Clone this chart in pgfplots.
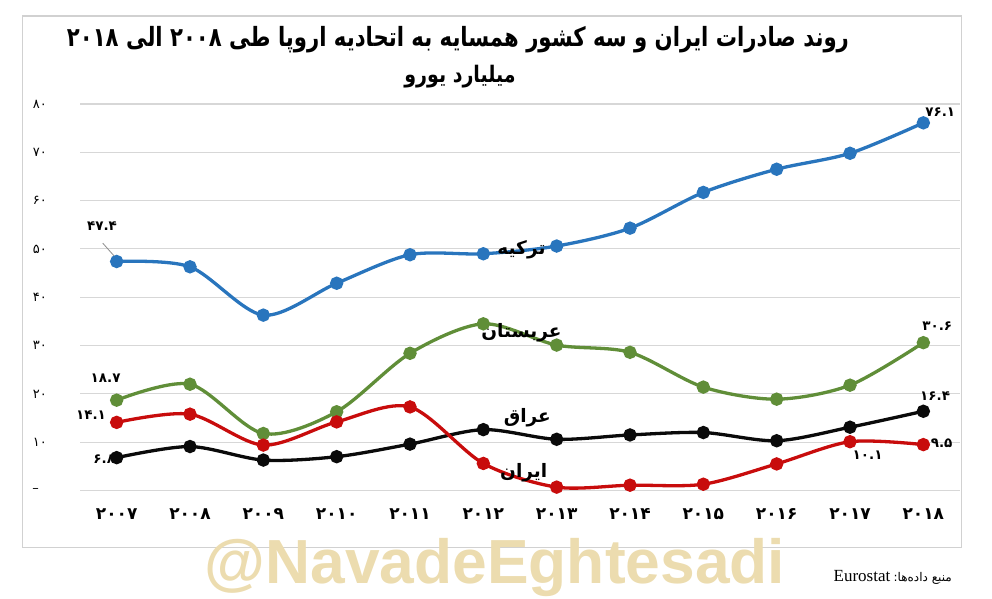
\documentclass[border=0pt]{standalone}
\usepackage{pgfplots}
\pgfplotsset{compat=1.18}
\usepackage{fontspec}
\setmainfont{Liberation Serif}
\newfontfamily\fa[Script=Arabic]{DejaVu Sans}
\newfontfamily\lsans{Liberation Sans}
\TeXXeTstate=1
\definecolor{tblue}{RGB}{41,117,189}
\definecolor{tgreen}{RGB}{96,142,56}
\definecolor{tred}{RGB}{200,12,12}
\definecolor{tblack}{RGB}{10,10,10}
\definecolor{tgrid}{RGB}{215,215,215}
\definecolor{wm}{RGB}{236,220,175}
\tikzset{
  dlab/.style={font=\fa\bfseries\fontsize{13.5}{13.5}\selectfont, inner sep=0pt},
  slab/.style={font=\fa\bfseries\fontsize{18.5}{18.5}\selectfont, inner sep=0pt},
}
\begin{document}
\begin{tikzpicture}[x=1pt,y=1pt]
\path[use as bounding box] (0,0) rectangle (992,598);
\draw[black!18, line width=1.3pt] (22.7,582) rectangle (961.7,50.3);
\node[text=wm, inner sep=0, anchor=south] at (495,1) {\resizebox{580pt}{!}{\lsans\bfseries @NavadeEghtesadi}};
\begin{axis}[
  at={(80pt,107.5pt)}, anchor=south west,
  width=880pt, height=386.5pt, scale only axis,
  xmin=-0.5, xmax=11.5, ymin=0, ymax=80,
  axis line style={draw=none},
  major tick length=0pt,
  ymajorgrids, grid style={tgrid, line width=1.1pt},
  xtick={0,...,11},
  xticklabels={۲۰۰۷,۲۰۰۸,۲۰۰۹,۲۰۱۰,۲۰۱۱,۲۰۱۲,۲۰۱۳,۲۰۱۴,۲۰۱۵,۲۰۱۶,۲۰۱۷,۲۰۱۸},
  xticklabel style={font=\fa\bfseries\fontsize{17}{17}\selectfont, anchor=north, inner sep=0pt, yshift=-18pt},
  ytick={0,10,...,80},
  yticklabels={–\hspace*{8pt},۱۰,۲۰,۳۰,۴۰,۵۰,۶۰,۷۰,۸۰},
  yticklabel style={font=\fa\fontsize{13}{13}\selectfont, anchor=east, inner sep=0pt, xshift=-33pt},
  clip=false,
]
\addplot[tblue, line width=3.3pt, smooth, mark=*, mark size=5pt, mark options={fill=tblue, draw=tblue}]
  coordinates {(0,47.4)(1,46.3)(2,36.3)(3,42.9)(4,48.8)(5,49.0)(6,50.6)(7,54.3)(8,61.7)(9,66.5)(10,69.8)(11,76.1)};
\addplot[tgreen, line width=3.3pt, smooth, mark=*, mark size=5pt, mark options={fill=tgreen, draw=tgreen}]
  coordinates {(0,18.7)(1,22.0)(2,11.8)(3,16.3)(4,28.4)(5,34.5)(6,30.1)(7,28.6)(8,21.4)(9,18.9)(10,21.8)(11,30.6)};
\addplot[tblack, line width=3.3pt, smooth, mark=*, mark size=5pt, mark options={fill=tblack, draw=tblack}]
  coordinates {(0,6.8)(1,9.1)(2,6.3)(3,7.0)(4,9.6)(5,12.6)(6,10.6)(7,11.5)(8,12.0)(9,10.3)(10,13.1)(11,16.4)};
\addplot[tred, line width=3.3pt, smooth, mark=*, mark size=5pt, mark options={fill=tred, draw=tred}]
  coordinates {(0,14.1)(1,15.8)(2,9.4)(3,14.2)(4,17.3)(5,5.6)(6,0.7)(7,1.1)(8,1.3)(9,5.5)(10,10.1)(11,9.5)};
% leader line
\draw[black!45, line width=0.8pt] (axis cs:-0.19,51.2) -- (axis cs:-0.02,48.3);
% data labels
\node[dlab] at (axis cs:-0.2,54.7) {۴۷.۴};
\node[dlab] at (axis cs:-0.15,23.3) {۱۸.۷};
\node[dlab] at (axis cs:-0.35,15.6) {۱۴.۱};
\node[dlab] at (axis cs:-0.17,6.5) {۶.۸};
\node[dlab] at (axis cs:11.23,78.3) {۷۶.۱};
\node[dlab] at (axis cs:11.19,34.0) {۳۰.۶};
\node[dlab] at (axis cs:11.16,19.6) {۱۶.۴};
\node[dlab] at (axis cs:11.25,9.8) {۹.۵};
\node[dlab] at (axis cs:10.24,7.3) {۱۰.۱};
% series names
\node[slab] at (axis cs:5.52,49.8) {\beginR ترکیه\endR};
\node[slab] at (axis cs:5.52,32.6) {\beginR عربستان\endR};
\node[slab] at (axis cs:5.6,15.0) {\beginR عراق\endR};
\node[slab] at (axis cs:5.55,3.6) {\beginR ایران\endR};
\end{axis}
\node[inner sep=0] at (458,558)
  {\scalebox{1}[1.25]{\fa\bfseries\fontsize{21.2}{21.2}\selectfont\beginR روند صادرات ایران و سه کشور همسایه به اتحادیه اروپا طی ۲۰۰۸ الی ۲۰۱۸\endR}};
\node[inner sep=0] at (460,521)
  {\scalebox{1}[1.2]{\fa\bfseries\fontsize{19}{19}\selectfont\beginR میلیارد یورو\endR}};
\node[anchor=east, inner sep=0] at (952,21)
  {\beginR{\fa\fontsize{12}{12}\selectfont منبع داده‌ها:} \beginL{\fontsize{17}{17}\selectfont Eurostat}\endL\endR};
\end{tikzpicture}
\end{document}
